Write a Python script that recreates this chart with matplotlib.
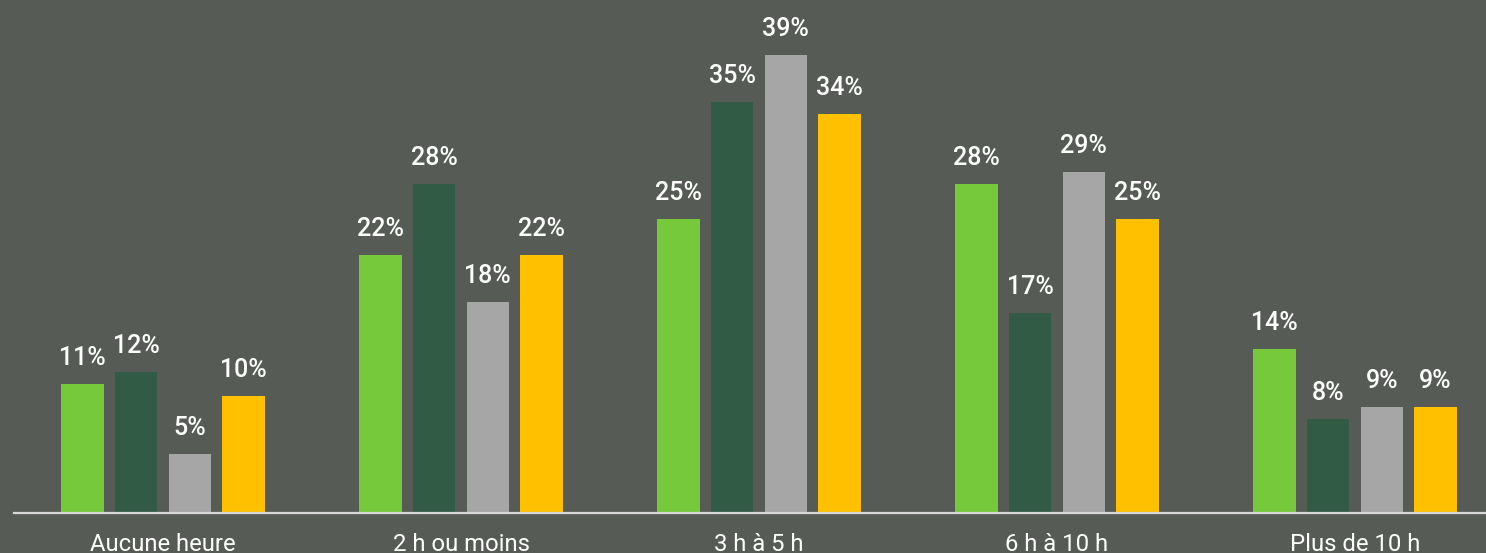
import matplotlib
matplotlib.use("Agg")
import matplotlib.pyplot as plt
import numpy as np

categories = ["Aucune heure", "2 h ou moins", "3 h à 5 h", "6 h à 10 h", "Plus de 10 h"]
series_a = [11, 22, 25, 28, 14]
series_b = [12, 28, 35, 17, 8]
series_c = [5, 18, 39, 29, 9]
series_d = [10, 22, 34, 25, 9]
series = [series_a, series_b, series_c, series_d]
colors = ["#76C93A", "#315B45", "#A6A6A6", "#FFC000"]

BG = "#565C55"
plt.rcParams['font.family'] = ['Roboto', 'DejaVu Sans']

fig = plt.figure(figsize=(14.86, 5.53), dpi=100, facecolor=BG)
ax = fig.add_axes([14/1486, 40/553, 1490/1486, 470/553])
ax.set_facecolor(BG)

x = np.arange(len(categories))
step = 0.18
width = 0.142
for i, (vals, col) in enumerate(zip(series, colors)):
    offs = (i - 1.5) * step
    bars = ax.bar(x + offs, vals, width=width, color=col, zorder=2)
    for b, v in zip(bars, vals):
        ax.annotate(f"{v}%", (b.get_x() + b.get_width() / 2, b.get_height()),
                    xytext=(0, 10), textcoords="offset points",
                    ha="center", va="bottom", color="white",
                    fontsize=18, fontweight="medium")

ax.set_xlim(-0.5, 4.5)
ax.set_ylim(0, 40)
ax.set_xticks(x)
ax.set_xticklabels(categories, color="white", fontsize=17.2)
ax.tick_params(axis='x', length=0, pad=14.5)
ax.set_yticks([])
for s in ["top", "left", "right"]:
    ax.spines[s].set_visible(False)
ax.spines["bottom"].set_color("#D9D9D9")
ax.spines["bottom"].set_linewidth(1.6)
ax.spines["bottom"].set_zorder(3)

fig.savefig("out.png", dpi=100, facecolor=BG)
